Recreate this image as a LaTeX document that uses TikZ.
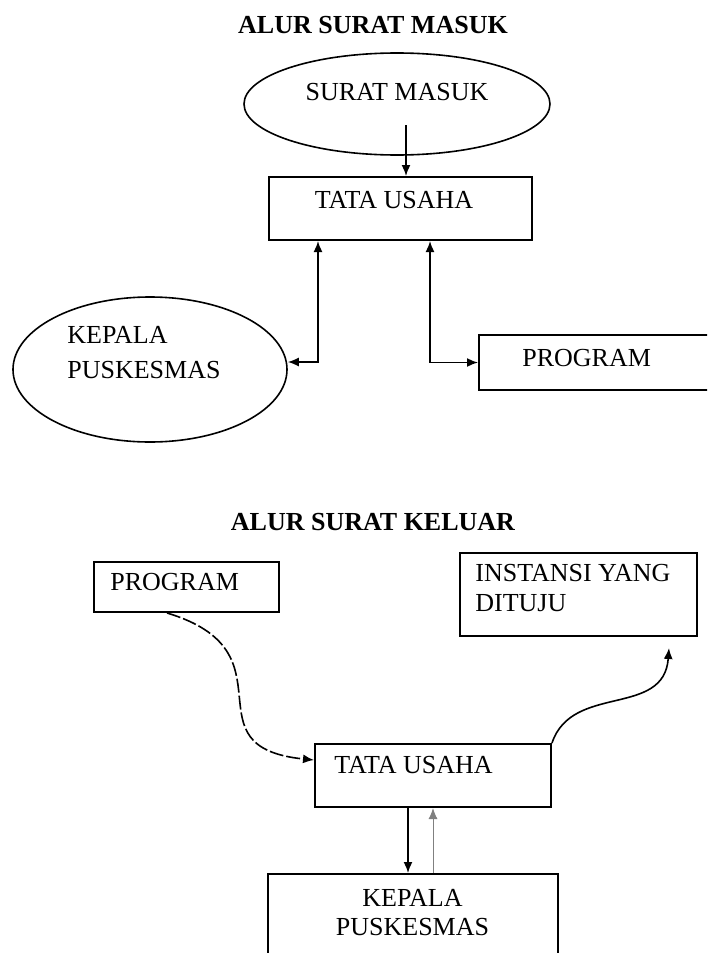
\documentclass[tikz,border=0pt]{standalone}
\usepackage{fontspec}
\setmainfont{Liberation Serif}
\usetikzlibrary{shapes.geometric,arrows.meta}

\begin{document}
\begin{tikzpicture}[x=0.5pt, y=-0.5pt, >={Latex[length=5.5pt,width=4.5pt]},
    judul/.style={font=\fontsize{13}{16}\selectfont\bfseries, inner sep=0pt},
    isi/.style={font=\fontsize{13}{17.5}\selectfont, inner sep=0pt},
    kotak/.style={draw, line width=1pt, inner sep=0pt},
    oval/.style={draw, ellipse, line width=0.8pt, inner sep=0pt},
    panah/.style={line width=0.8pt}]
  \clip (0,0) rectangle (707,953);
  % alur surat masuk
  \node[judul] (judul1) at (373,25) {ALUR SURAT MASUK};
  \node[oval, minimum width=153pt, minimum height=51pt] (sm) at (397,104) {};
  \node[isi] (smt) at (397,92) {SURAT MASUK};
  \node[kotak, minimum width=131.5pt, minimum height=31.5pt] (tu1) at (400.5,208.5) {};
  \node[isi] (tu1t) at (394,200) {TATA USAHA};
  \node[oval, minimum width=137pt, minimum height=72.5pt] (kp1) at (150,369.5) {};
  \node[isi, anchor=west, align=left] (kp1t) at (67,352.5) {KEPALA\\PUSKESMAS};
  \node[kotak, minimum width=120.5pt, minimum height=27.5pt] (pr1) at (599.5,362.5) {};
  \node[isi, anchor=west] (pr1t) at (522,358) {PROGRAM};
  \coordinate (a1) at (406,125);
  \coordinate (a2) at (318,362);
  \coordinate (a3) at (430,362.5);
  \draw [panah,->] (a1) -- (a1 |- tu1.north);
  \draw [panah,<->] (a2 -| kp1.east) -- (a2) -- (a2 |- tu1.south);
  \draw [panah,<->] (tu1.south -| a3) -- (a3) -- (pr1.west);
  % alur surat keluar
  \node[judul] (judul2) at (373,522) {ALUR SURAT KELUAR};
  \node[kotak, minimum width=92.5pt, minimum height=25pt] (pr2) at (186.5,587) {};
  \node[isi, anchor=west] (pr2t) at (110,582) {PROGRAM};
  \node[kotak, minimum width=118.5pt, minimum height=41.5pt] (in2) at (578.5,594.5) {};
  \node[isi, anchor=west, align=left, font=\fontsize{13}{15}\selectfont] (in2t) at (475,588) {INSTANSI YANG\\DITUJU};
  \node[kotak, minimum width=118pt, minimum height=31.5pt] (tu2) at (433,775.5) {};
  \node[isi] (tu2t) at (413.5,765) {TATA USAHA};
  \node[kotak, minimum width=145pt, minimum height=48pt] (kp2) at (413,922) {};
  \node[isi, align=center, font=\fontsize{13}{14.5}\selectfont] (kp2t) at (412.5,912.5) {KEPALA\\PUSKESMAS};
  \coordinate (a4) at (408,840);
  \coordinate (a5) at (433,840);
  \draw [panah,->,dash pattern=on 7pt off 1.5pt] ([xshift=-9.75pt]pr2.south) .. controls +(130,39) and +(-130,-13) .. ([yshift=7.75pt]tu2.west);
  \draw [panah,->] (tu2.north east) .. controls +(20,-60) and +(-5,70) .. ([xshift=-14.5pt,yshift=-5.5pt]in2.south east);
  \draw [panah,->] (tu2.south -| a4) -- (kp2.north -| a4);
  \draw [gray,line width=0.5pt,->] (kp2.north -| a5) -- (tu2.south -| a5);
\end{tikzpicture}
\end{document}
